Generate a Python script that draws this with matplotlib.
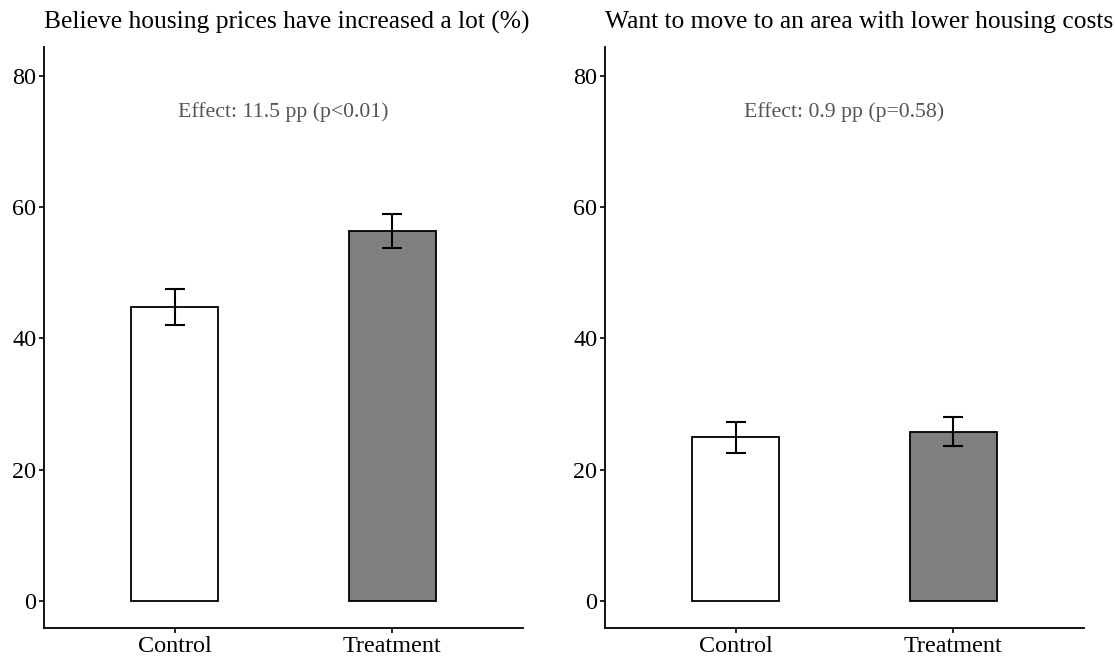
import matplotlib
matplotlib.use("Agg")
import matplotlib.pyplot as plt

plt.rcParams['font.family'] = ['Liberation Serif', 'DejaVu Serif']

categories = ["Control", "Treatment"]
titles = ["Believe housing prices have increased a lot (%)",
          "Want to move to an area with lower housing costs (%)"]
means_prices = [44.8, 56.3]
ci_prices = [2.75, 2.6]
means_move = [24.9, 25.8]
ci_move = [2.3, 2.25]
effects = ["Effect: 11.5 pp (p<0.01)", "Effect: 0.9 pp (p=0.58)"]
yticks = [0, 20, 40, 60, 80]

fill_colors = ["white", "#7f7f7f"]

fig = plt.figure(figsize=(11.15, 6.56), dpi=100)
ax_pos = [[0.0395, 0.0427, 0.4296, 0.886], [0.5426, 0.0427, 0.4296, 0.886]]
panels = [(means_prices, ci_prices), (means_move, ci_move)]

for i, (means, cis) in enumerate(panels):
    ax = fig.add_axes(ax_pos[i])
    x = [1, 2]
    ax.bar(x, means, width=0.4, color=fill_colors, edgecolor="black", linewidth=1.3, zorder=2)
    ax.errorbar(x, means, yerr=cis, fmt="none", ecolor="black", elinewidth=1.5,
                capsize=7.5, capthick=1.5, zorder=3)
    ax.set_xlim(0.4, 2.6)
    ax.set_ylim(-4.11, 84.4)
    ax.set_xticks(x)
    ax.set_xticklabels(categories)
    ax.set_yticks(yticks)
    ax.tick_params(axis="both", labelsize=17.4, length=3.5, width=1.2, pad=2,
                   color="black", labelcolor="black")
    for s in ["top", "right"]:
        ax.spines[s].set_visible(False)
    for s in ["left", "bottom"]:
        ax.spines[s].set_linewidth(1.3)
    ax.text(1.5, 74.5, effects[i], ha="center", va="center", fontsize=15.7, color="#555555")
    pos = ax_pos[i]
    fig.text(pos[0], 1 - 22 / 656, titles[i], ha="left", va="center", fontsize=18.4)

fig.savefig("out.png", dpi=100)
